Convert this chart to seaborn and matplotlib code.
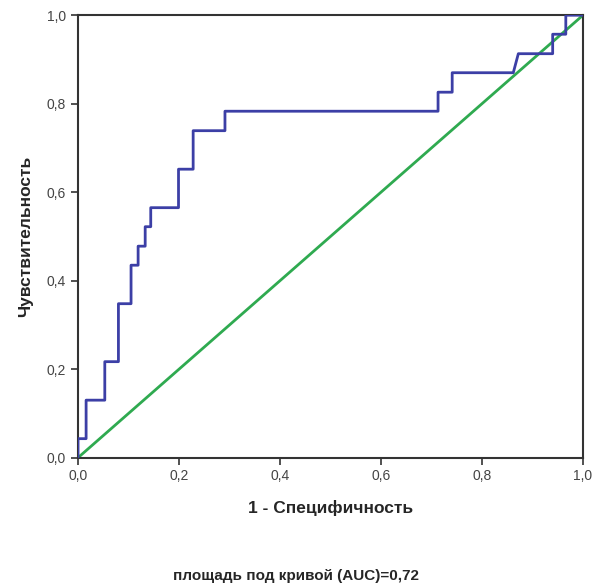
import pandas as pd
import matplotlib
matplotlib.use("Agg")
import matplotlib.pyplot as plt
import seaborn as sns

# ROC curve vertices (1 - specificity, sensitivity)
fpr = [0.0, 0.0, 0.016, 0.016, 0.053, 0.053, 0.080, 0.080, 0.105, 0.105,
       0.119, 0.119, 0.133, 0.133, 0.144, 0.144, 0.199, 0.199, 0.228, 0.228,
       0.291, 0.291, 0.713, 0.713, 0.741, 0.741, 0.862, 0.872, 0.940, 0.940,
       0.966, 0.966, 1.0]
tpr = [0.0, 0.043, 0.043, 0.130, 0.130, 0.217, 0.217, 0.348, 0.348, 0.435,
       0.435, 0.478, 0.478, 0.522, 0.522, 0.565, 0.565, 0.652, 0.652, 0.739,
       0.739, 0.783, 0.783, 0.826, 0.826, 0.870, 0.870, 0.913, 0.913, 0.957,
       0.957, 1.0, 1.0]
ref_x = [0.0, 1.0]
ref_y = [0.0, 1.0]

ticks = [0.0, 0.2, 0.4, 0.6, 0.8, 1.0]
tick_labels = ["0,0", "0,2", "0,4", "0,6", "0,8", "1,0"]

sns.set_style("ticks")
plt.rcParams['font.family'] = ['Liberation Sans', 'DejaVu Sans']

df = pd.DataFrame({"fpr": fpr, "tpr": tpr})
ref = pd.DataFrame({"x": ref_x, "y": ref_y})

fig = plt.figure(figsize=(5.97, 5.87), dpi=100)
ax = fig.add_axes([0.1307, 0.2203, 0.8458, 0.7538])

sns.lineplot(data=df, x="fpr", y="tpr", sort=False, estimator=None,
             color="#3c3fa6", linewidth=2, ax=ax, zorder=3)
sns.lineplot(data=ref, x="x", y="y", sort=False, estimator=None,
             color="#2faa50", linewidth=2, ax=ax, zorder=2)

ax.set_xlim(0, 1)
ax.set_ylim(0, 1)
ax.set_xticks(ticks)
ax.set_xticklabels(tick_labels)
ax.set_yticks(ticks)
ax.set_yticklabels(tick_labels)
ax.tick_params(direction="out", length=5, width=1.2, colors="#333333",
               labelsize=10, labelcolor="#444444")
for s in ax.spines.values():
    s.set_color("#333333")
    s.set_linewidth(1.5)

ax.set_xlabel("1 - Специфичность", fontsize=12.5, fontweight="bold", labelpad=12)
ax.set_ylabel("Чувствительность", fontsize=12.5, fontweight="bold", labelpad=10)
fig.text(0.495, 0.012, "площадь под кривой (AUC)=0,72", ha="center",
         fontsize=11, fontweight="bold")

fig.savefig("out.png", dpi=100)
